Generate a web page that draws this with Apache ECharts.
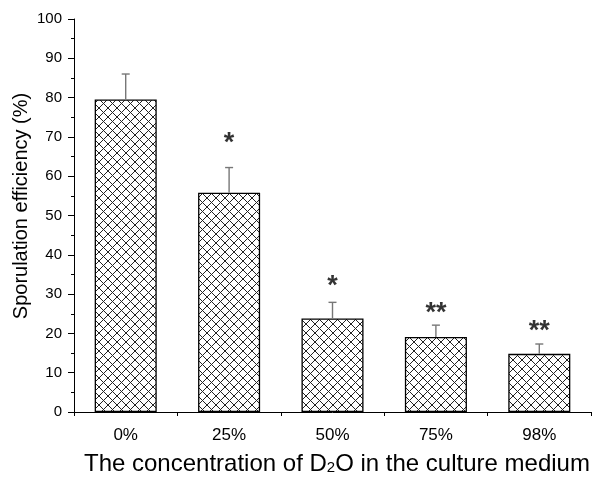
<!DOCTYPE html>
<html>
<head>
<meta charset="utf-8">
<script src="https://cdn.jsdelivr.net/npm/echarts@6/dist/echarts.min.js"></script>
<style>
  html, body { margin: 0; padding: 0; background: #fff; }
  #chart { width: 613px; height: 491px; }
</style>
</head>
<body>
<div id="chart"></div>
<script>
// Sporulation efficiency at each D2O concentration (mean, SD)
const categories = ['0%', '25%', '50%', '75%', '98%'];
const efficiency = [79.5, 55.8, 23.8, 19.1, 14.8];
const errors = [6.5, 6.4, 4.1, 3.0, 2.5];
// significance marks and the height (in %) where they sit
const marks = ['', '*', '*', '**', '**'];
const markHeights = [null, 68.4, 31.8, 25.0, 20.4];
const yTicks = [0, 10, 20, 30, 40, 50, 60, 70, 80, 90, 100];

const FONT = '"Liberation Sans", Arial, sans-serif';

// cross-hatch fill for the bars
function hatchPattern() {
  const s = 9;
  const c = document.createElement('canvas');
  c.width = s; c.height = s;
  const g = c.getContext('2d');
  g.fillStyle = '#fff';
  g.fillRect(0, 0, s, s);
  g.strokeStyle = '#222';
  g.lineWidth = 1;
  g.beginPath();
  g.moveTo(0, 0); g.lineTo(s, s);
  g.moveTo(s, 0); g.lineTo(0, s);
  g.stroke();
  return c;
}

const chart = echarts.init(document.getElementById('chart'), null, { renderer: 'canvas' });

chart.setOption({
  animation: false,
  backgroundColor: '#fff',
  grid: { left: 74, right: 22, top: 19, bottom: 79 },
  graphic: [
    {
      // y-axis title
      type: 'text',
      x: 21, y: 206,
      rotation: Math.PI / 2,
      style: {
        text: 'Sporulation efficiency (%)',
        font: '20px ' + FONT,
        fill: '#000',
        align: 'center',
        verticalAlign: 'middle'
      }
    },
    {
      // x-axis title with subscript
      type: 'text',
      x: 84, y: 464,
      style: {
        text: 'The concentration of D{sub|2}O in the culture medium',
        font: '24px ' + FONT,
        fill: '#000',
        align: 'left',
        verticalAlign: 'middle',
        rich: {
          sub: { font: '15px ' + FONT, fill: '#000', padding: [8, 0, 0, 0] }
        }
      }
    }
  ],
  xAxis: {
    type: 'category',
    data: categories,
    boundaryGap: true,
    axisLine: { lineStyle: { color: '#000', width: 1 } },
    axisTick: { show: true, inside: false, length: 4, alignWithLabel: false, lineStyle: { color: '#000' } },
    axisLabel: { fontFamily: FONT, fontSize: 17, color: '#000', margin: 15 }
  },
  yAxis: {
    type: 'value',
    min: 0, max: 100, interval: 10,
    axisLine: { show: true, lineStyle: { color: '#000', width: 1 } },
    axisTick: { show: true, inside: false, length: 6, lineStyle: { color: '#000' } },
    minorTick: { show: true, splitNumber: 2, length: 3, lineStyle: { color: '#000' } },
    splitLine: { show: false },
    axisLabel: {
      fontFamily: FONT, fontSize: 15, color: '#000', margin: 12,
      formatter: v => (yTicks.indexOf(v) >= 0 ? String(v) : '')
    }
  },
  series: [
    {
      type: 'bar',
      data: efficiency,
      barWidth: '60%',
      itemStyle: {
        color: { image: hatchPattern(), repeat: 'repeat' },
        borderColor: '#000',
        borderWidth: 1.3
      },
      z: 2
    },
    {
      // upper error bars
      type: 'custom',
      data: efficiency.map((v, i) => [i, v, v + errors[i]]),
      renderItem: (params, api) => {
        const base = api.coord([api.value(0), api.value(1)]);
        const top = api.coord([api.value(0), api.value(2)]);
        const half = 4;
        const style = { stroke: '#777', lineWidth: 1.4 };
        return {
          type: 'group',
          children: [
            { type: 'line', shape: { x1: base[0], y1: base[1], x2: top[0], y2: top[1] }, style },
            { type: 'line', shape: { x1: top[0] - half, y1: top[1], x2: top[0] + half, y2: top[1] }, style }
          ]
        };
      },
      z: 3
    },
    {
      // significance asterisks
      type: 'scatter',
      data: markHeights.map((h, i) => (h === null ? [i, null] : [i, h])),
      symbolSize: 0,
      label: {
        show: true,
        position: 'inside',
        formatter: p => marks[p.dataIndex],
        fontFamily: FONT,
        fontSize: 27,
        fontWeight: 'bold',
        color: '#000'
      },
      z: 4
    }
  ]
});
</script>
</body>
</html>
